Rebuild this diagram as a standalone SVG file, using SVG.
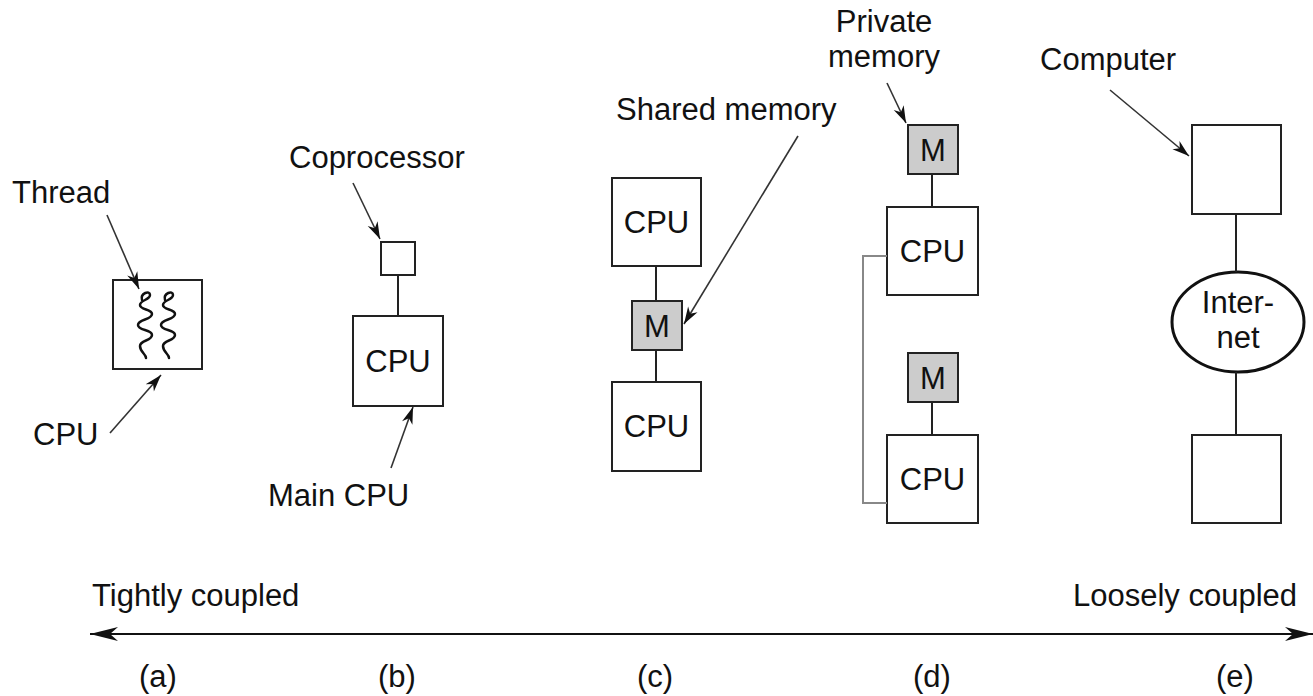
<svg xmlns="http://www.w3.org/2000/svg" width="1313" height="696" viewBox="0 0 1313 696">
<style>
text{font-family:"Liberation Sans",Arial,sans-serif;font-size:31px;fill:#111}
.c{text-anchor:middle}
.box{fill:#fff;stroke:#222;stroke-width:2}
.mem{fill:#cccccc;stroke:#222;stroke-width:2}
.wire{stroke:#222;stroke-width:2;fill:none}
.gray{stroke:#888;stroke-width:2;fill:none}
.ptr{stroke:#333;stroke-width:1.6;fill:none;marker-end:url(#ah)}
.thr{stroke:#111;stroke-width:2.5;fill:none;stroke-linecap:round}
</style>
<defs>
<marker id="ah" viewBox="-18 -6 20 12" markerWidth="20" markerHeight="12" refX="0" refY="0" orient="auto" markerUnits="userSpaceOnUse">
<path d="M0,0 L-17,-5.5 L-12,0 L-17,5.5 Z" fill="#111"/>
</marker>
<marker id="big" viewBox="-30 -8 32 16" markerWidth="32" markerHeight="16" refX="0" refY="0" orient="auto-start-reverse" markerUnits="userSpaceOnUse">
<path d="M0,0 L-28,-7 L-20,0 L-28,7 Z" fill="#111"/>
</marker>
<path id="thread" d="M0,10 C-2,3 8,0 8,5 C8,10 -2,10 -2,15 C-2,20 10,19 10,24 C10,30 -4,29 -4,35 C-4,41 10,39 10,45 C10,51 -2,50 -2,56 C-2,62 4,64 4,68"/>
</defs>

<g id="node-a">
<rect class="box" x="113" y="280" width="89" height="89"/>
<use href="#thread" class="thr" x="142" y="290"/>
<use href="#thread" class="thr" x="165" y="290"/>
</g>
<g id="label-thread"><text x="12" y="203">Thread</text></g>
<g id="label-cpu-a"><text x="33" y="445">CPU</text></g>

<g id="node-b-coproc"><rect class="box" x="381" y="242" width="34" height="33"/></g>
<g id="node-b-cpu"><rect class="box" x="353" y="316" width="90" height="90"/><text class="c" x="398" y="372">CPU</text></g>
<g id="label-coproc"><text x="289" y="168">Coprocessor</text></g>
<g id="label-maincpu"><text x="268" y="506">Main CPU</text></g>

<g id="node-c-cpu1"><rect class="box" x="612" y="178" width="89" height="88"/><text class="c" x="656.5" y="233">CPU</text></g>
<g id="node-c-m"><rect class="mem" x="632" y="301" width="50" height="49"/><text class="c" x="657" y="337">M</text></g>
<g id="node-c-cpu2"><rect class="box" x="612" y="382" width="89" height="89"/><text class="c" x="656.5" y="437">CPU</text></g>
<g id="label-shared"><text x="616" y="120">Shared memory</text></g>

<g id="node-d-m1"><rect class="mem" x="908" y="125" width="50" height="49"/><text class="c" x="933" y="161">M</text></g>
<g id="node-d-cpu1"><rect class="box" x="887" y="207" width="91" height="88"/><text class="c" x="932.5" y="262">CPU</text></g>
<g id="node-d-m2"><rect class="mem" x="908" y="353" width="50" height="49"/><text class="c" x="933" y="389">M</text></g>
<g id="node-d-cpu2"><rect class="box" x="887" y="435" width="91" height="88"/><text class="c" x="932.5" y="490">CPU</text></g>
<g id="label-private"><text class="c" x="884" y="32">Private</text><text class="c" x="884" y="67">memory</text></g>

<g id="node-e-comp1"><rect class="box" x="1192" y="125" width="89" height="89"/></g>
<g id="node-e-internet"><ellipse cx="1238" cy="322" rx="66" ry="50" fill="#fff" stroke="#111" stroke-width="3"/><text class="c" x="1238" y="313">Inter-</text><text class="c" x="1238" y="348">net</text></g>
<g id="node-e-comp2"><rect class="box" x="1192" y="435" width="89" height="88"/></g>
<g id="label-computer"><text x="1040" y="70">Computer</text></g>

<g id="connectors">
<line class="wire" x1="398" y1="275" x2="398" y2="316"/>
<line class="wire" x1="656" y1="266" x2="656" y2="301"/>
<line class="wire" x1="656" y1="350" x2="656" y2="382"/>
<line class="wire" x1="932" y1="174" x2="932" y2="207"/>
<line class="wire" x1="932" y1="402" x2="932" y2="435"/>
<polyline class="gray" points="887,256 863,256 863,503 887,503"/>
<line class="wire" x1="1236" y1="214" x2="1236" y2="272"/>
<line class="wire" x1="1236" y1="372" x2="1236" y2="435"/>
<line class="ptr" x1="107" y1="215" x2="139" y2="289"/>
<line class="ptr" x1="110" y1="433" x2="161" y2="375"/>
<line class="ptr" x1="353" y1="183" x2="380" y2="239"/>
<line class="ptr" x1="391" y1="468" x2="413" y2="407"/>
<line class="ptr" x1="798" y1="136" x2="684" y2="324"/>
<line class="ptr" x1="887" y1="83" x2="906" y2="123"/>
<line class="ptr" x1="1110" y1="90" x2="1189" y2="156"/>
<line stroke="#111" stroke-width="2" x1="90" y1="634" x2="1313" y2="634" marker-start="url(#big)" marker-end="url(#big)"/>
</g>

<g id="axis-labels">
<text x="92" y="606">Tightly coupled</text>
<text x="1073" y="606">Loosely coupled</text>
<text x="139" y="687">(a)</text>
<text x="378" y="687">(b)</text>
<text x="637" y="687">(c)</text>
<text x="913" y="687">(d)</text>
<text x="1216" y="687">(e)</text>
</g>
</svg>
